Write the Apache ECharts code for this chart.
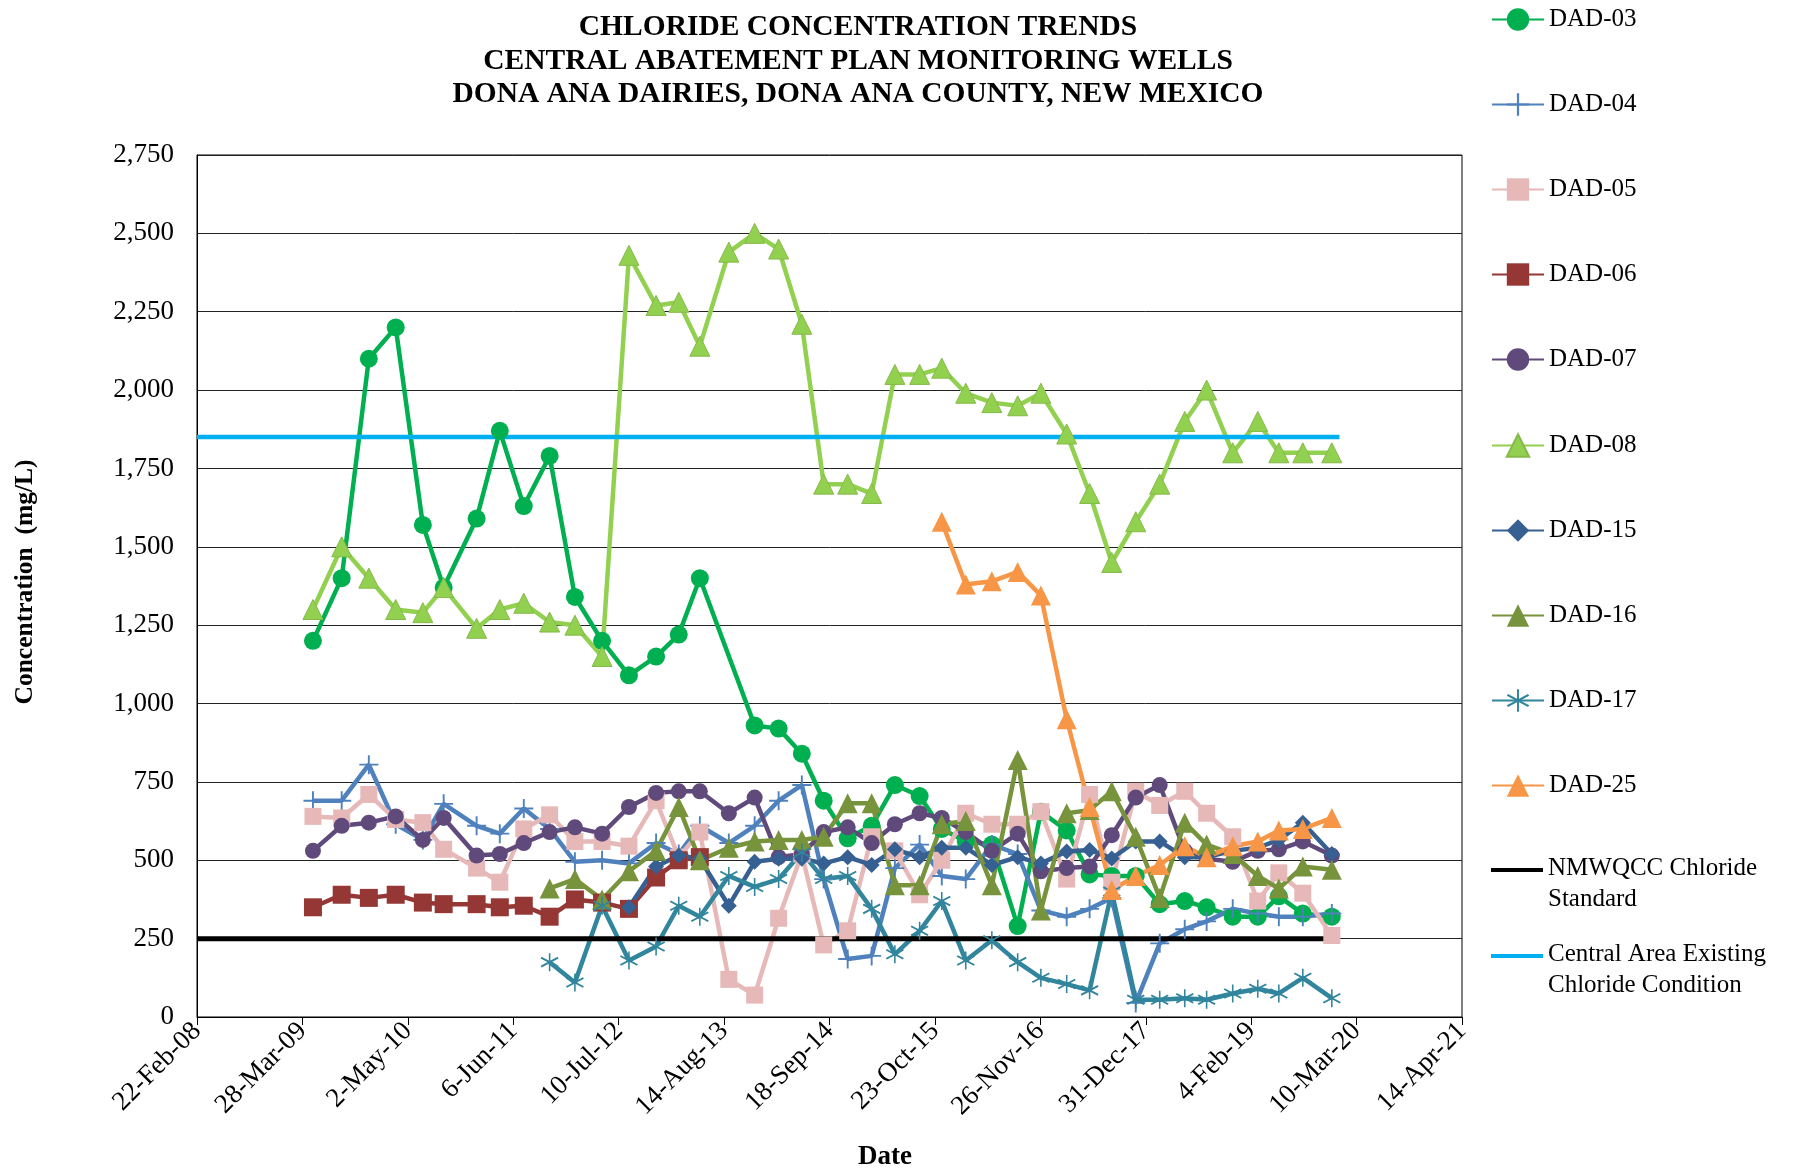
<!DOCTYPE html>
<html>
<head>
<meta charset="utf-8">
<script src="https://cdn.jsdelivr.net/npm/echarts@6/dist/echarts.min.js"></script>
<style>
html,body{margin:0;padding:0;background:#fff;}
#chart{width:1803px;height:1172px;}
</style>
</head>
<body>
<div id="chart"></div>
<script>
// ---- sample dates (shared by all wells) ----
const sampleDates = ['2009-05-07','2009-08-24','2009-12-05','2010-03-17','2010-06-28','2010-09-15','2011-01-18','2011-04-16','2011-07-16','2011-10-22','2012-01-26','2012-05-08','2012-08-18','2012-11-29','2013-02-23','2013-05-14','2013-09-01','2013-12-08','2014-03-09','2014-06-05','2014-08-27','2014-11-26','2015-02-25','2015-05-24','2015-08-26','2015-11-18','2016-02-17','2016-05-26','2016-09-01','2016-11-28','2017-03-06','2017-06-01','2017-08-24','2017-11-23','2018-02-22','2018-05-28','2018-08-19','2018-11-26','2019-03-01','2019-05-20','2019-08-19','2019-12-07'];

// ---- chloride concentration (mg/L) per well, aligned with sampleDates ----
const dad03 = [1200,1400,2100,2200,1570,1370,1590,1870,1630,1790,1340,1200,1090,1150,1220,1400,null,930,920,840,690,570,610,740,705,600,560,550,290,655,595,455,450,450,360,370,350,320,320,385,330,320];
const dad04 = [690,690,805,615,565,680,610,585,665,600,495,500,490,555,520,610,555,610,690,740,440,185,195,475,550,450,440,550,520,340,320,345,380,45,235,280,305,345,330,320,320,330];
const dad05 = [640,635,710,630,620,535,475,430,600,645,560,560,545,690,510,590,120,70,315,520,230,275,575,530,390,500,650,615,615,655,440,710,430,720,675,720,650,575,370,460,395,260];
const dad06 = [350,390,380,390,365,360,360,350,355,320,375,365,345,445,500,510,null,null,null,null,null,null,null,null,null,null,null,null,null,null,null,null,null,null,null,null,null,null,null,null,null,null];
const dad07 = [530,610,620,640,565,635,515,520,555,590,605,585,670,715,720,720,650,700,510,520,590,605,555,615,650,635,590,530,585,465,475,480,580,700,740,530,505,495,530,535,560,515];
const dad08 = [1300,1500,1400,1300,1290,1370,1240,1300,1320,1260,1250,1150,2430,2270,2280,2140,2440,2500,2450,2210,1700,1700,1670,2050,2050,2070,1990,1960,1950,1990,1860,1670,1450,1580,1700,1900,2000,1800,1900,1800,1800,1800];
const dad15 = [null,null,null,null,null,null,null,null,null,null,null,null,350,480,515,505,355,495,505,505,490,510,485,535,510,540,540,485,510,490,528,533,506,560,560,510,510,530,540,565,620,520];
const dad16 = [null,null,null,null,null,null,null,null,null,410,440,375,465,530,670,500,540,560,565,565,575,682,682,420,420,615,625,420,820,340,650,660,720,575,380,620,550,520,450,410,480,470];
const dad17 = [null,null,null,null,null,null,null,null,null,175,110,355,180,225,355,320,450,415,440,525,440,450,345,200,275,370,180,245,175,125,105,85,400,55,55,60,55,75,90,75,125,60];
const dad25 = [null,null,null,null,null,null,null,null,null,null,null,null,null,null,null,null,null,null,null,null,null,null,null,null,null,1580,1380,1390,1420,1345,950,670,405,450,485,545,510,545,560,595,600,635];

// ---- reference lines ----
const refDates = ['2008-02-22','2020-01-05'];
const standardValues = [250,250];      // NMWQCC Chloride Standard
const existingValues = [1850,1850];    // Central Area Existing Chloride Condition

// ---- axis ----
const xMinDate = '2008-02-22';
const xStepDays = 400;
const xTickCount = 12;
const yMax = 2750, yStep = 250;

const MONTHS = ['Jan','Feb','Mar','Apr','May','Jun','Jul','Aug','Sep','Oct','Nov','Dec'];
function serial(s){ const p = s.split('-').map(Number); return Date.UTC(p[0],p[1]-1,p[2])/86400000 + 25569; }
function fmtDate(v){ const d = new Date((Math.round(v)-25569)*86400000); return d.getUTCDate()+'-'+MONTHS[d.getUTCMonth()]+'-'+String(d.getUTCFullYear()).slice(2); }
function pairs(dates, vals){ return dates.map((d,i)=>[serial(d), vals[i]]).filter(p=>p[1]!=null); }

const xMin = serial(xMinDate), xMax = xMin + xStepDays*xTickCount;
const FONT = '"Liberation Serif","Times New Roman",serif';

const PLUS = 'path://M9,0 L11,0 L11,9 L20,9 L20,11 L11,11 L11,20 L9,20 L9,11 L0,11 L0,9 L9,9 Z';
const STAR = 'path://M9.2,0 L10.8,0 L10.8,20 L9.2,20 Z M1.84,15.87 L0.84,14.13 L18.16,4.13 L19.16,5.87 Z M0.84,5.87 L1.84,4.13 L19.16,14.13 L18.16,15.87 Z';
const TOPLINE = 'path://M0,0 L52,0 L52,4 L0,4 Z M0,31 L0.01,31 L0,31 Z';

function well(name, vals, color, symbol, size, extra){
  return Object.assign({
    name: name, type: 'line', data: pairs(sampleDates, vals),
    symbol: symbol, symbolSize: size, showSymbol: true,
    lineStyle: {color: color, width: 4.5},
    itemStyle: {color: color, borderWidth: 0},
    emphasis: {disabled: true}, animation: false
  }, extra || {});
}

const series = [
  well('DAD-03', dad03, '#00B050', 'circle', 18),
  well('DAD-04', dad04, '#4F81BD', PLUS, 19),
  well('DAD-05', dad05, '#E6B9B8', 'rect', 17),
  well('DAD-06', dad06, '#953735', 'rect', 18),
  well('DAD-07', dad07, '#604A7B', 'circle', 16),
  well('DAD-08', dad08, '#92D050', 'triangle', 20, {itemStyle:{color:'#92D050', borderColor:'#86B94A', borderWidth:1}}),
  well('DAD-15', dad15, '#376092', 'diamond', 16),
  well('DAD-16', dad16, '#77933C', 'triangle', 20),
  well('DAD-17', dad17, '#31859C', STAR, 18),
  well('DAD-25', dad25, '#F79646', 'triangle', 20),
  {name:'NMWQCC Chloride Standard', type:'line', data: pairs(refDates, standardValues), symbol:'none',
   lineStyle:{color:'#000000', width:5}, itemStyle:{color:'#000000'}, emphasis:{disabled:true}, animation:false},
  {name:'Central Area Existing Chloride Condition', type:'line', data: pairs(refDates, existingValues), symbol:'none',
   lineStyle:{color:'#00B0F0', width:4.5}, itemStyle:{color:'#00B0F0'}, emphasis:{disabled:true}, animation:false}
];

const legendCenters = [17,102,187,272,357,443,528,613,698,783,868,954];
const legends = series.map((s,i)=>{
  const multi = i >= 10;
  const base = {orient:'vertical', left: 1486, itemWidth: 52, itemGap: 0, selectedMode: false,
    textStyle: {fontFamily: FONT, fontSize: 25, color:'#000', lineHeight: 31}};
  if (!multi) {
    return Object.assign(base, {data: [s.name], top: legendCenters[i] - 18, itemHeight: 28});
  }
  return Object.assign(base, {
    data: [{name: s.name, icon: TOPLINE}], top: legendCenters[i] - 20.5, itemHeight: 31,
    formatter: function(n){
      if (n === 'NMWQCC Chloride Standard') return 'NMWQCC Chloride\nStandard';
      return 'Central Area Existing\nChloride Condition';
    }
  });
});

const chart = echarts.init(document.getElementById('chart'), null, {renderer:'canvas'});
chart.setOption({
  backgroundColor: '#ffffff',
  animation: false,
  title: {
    text: 'CHLORIDE CONCENTRATION TRENDS\nCENTRAL ABATEMENT PLAN MONITORING WELLS\nDONA ANA DAIRIES, DONA ANA COUNTY, NEW MEXICO',
    left: 853, top: 6, textAlign: 'center',
    textStyle: {fontFamily: FONT, fontWeight: 'bold', fontSize: 29.5, lineHeight: 33.5, color: '#000'}
  },
  legend: legends,
  grid: {left: 197, right: 341, top: 155, bottom: 155, show: true, borderColor: '#000', borderWidth: 1, containLabel: false},
  xAxis: {
    type: 'value', min: xMin, max: xMax, interval: xStepDays,
    axisLine: {show: true, lineStyle: {color: '#000', width: 1}},
    axisTick: {show: true, inside: false, length: 8, lineStyle: {color: '#000'}},
    splitLine: {show: false},
    axisLabel: {rotate: 45, margin: 10, fontFamily: FONT, fontSize: 27, color: '#000', formatter: fmtDate, showMinLabel: true, showMaxLabel: true}
  },
  yAxis: {
    type: 'value', min: 0, max: yMax, interval: yStep,
    axisLine: {show: true, lineStyle: {color: '#000', width: 1}},
    axisTick: {show: false},
    splitLine: {show: true, lineStyle: {color: '#222', width: 1}},
    axisLabel: {margin: 23, fontFamily: FONT, fontSize: 27, color: '#000', formatter: v => v.toLocaleString('en-US')}
  },
  graphic: [
    {type:'text', x: 885, y: 1157, style:{text:'Date', font:'bold 27px "Liberation Serif", serif', fill:'#000', textAlign:'center', textVerticalAlign:'middle'}},
    {type:'text', x: 25, y: 582, rotation: Math.PI/2, style:{text:'Concentration  (mg/L)', font:'bold 25.5px "Liberation Serif", serif', fill:'#000', textAlign:'center', textVerticalAlign:'middle'}}
  ],
  series: series
});
</script>
</body>
</html>
